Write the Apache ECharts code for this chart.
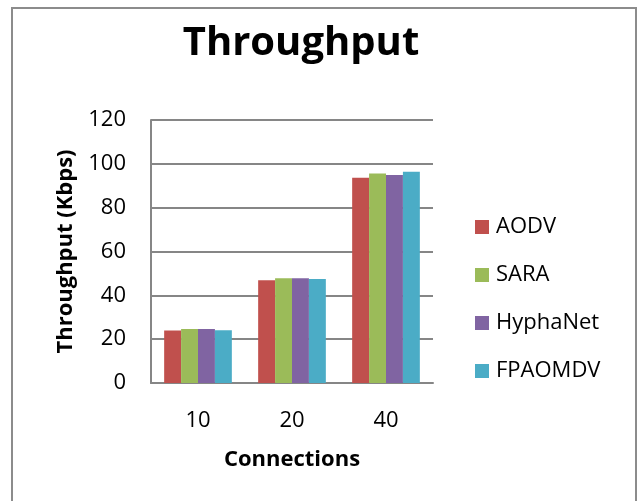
<!DOCTYPE html>
<html>
<head>
<meta charset="utf-8">
<script src="https://cdn.jsdelivr.net/npm/echarts@6/dist/echarts.min.js"></script>
<style>
  html, body { margin: 0; padding: 0; background: #ffffff; }
  #chart { width: 638px; height: 501px; }
</style>
</head>
<body>
<div id="chart"></div>
<script>
// Throughput per protocol for each connection count
const categories = ['10', '20', '40'];
const seriesNames = ['AODV', 'SARA', 'HyphaNet', 'FPAOMDV'];
const aodv = [23.9, 46.9, 93.7];
const sara = [24.6, 47.8, 95.6];
const hyphanet = [24.6, 47.8, 94.9];
const fpaomdv = [24.1, 47.5, 96.4];
const yTicks = [0, 20, 40, 60, 80, 100, 120];

const seriesValues = [aodv, sara, hyphanet, fpaomdv];
const colors = ['#C0504D', '#9BBB59', '#8064A2', '#4BACC6'];
const FONT = '"Open Sans", "Noto Sans", sans-serif';

const chart = echarts.init(document.getElementById('chart'), null, { renderer: 'canvas' });

chart.setOption({
  animation: false,
  backgroundColor: '#ffffff',
  color: colors,
  title: {
    text: 'Throughput',
    left: 301,
    textAlign: 'center',
    top: 24,
    padding: 0,
    textStyle: { fontFamily: FONT, fontWeight: 'bold', fontSize: 40, color: '#000000' }
  },
  legend: {
    orient: 'vertical',
    left: 475,
    top: 216,
    padding: 0,
    itemWidth: 14,
    itemHeight: 14,
    itemGap: 26,
    icon: 'rect',
    data: seriesNames,
    textStyle: { fontFamily: FONT, fontSize: 22, color: '#000000', padding: [0, 0, 0, 2] }
  },
  grid: { left: 151, right: 205, top: 120, bottom: 118, containLabel: false },
  xAxis: {
    type: 'category',
    data: categories,
    name: 'Connections',
    nameLocation: 'middle',
    nameGap: 66,
    nameTextStyle: { fontFamily: FONT, fontWeight: 'bold', fontSize: 22, color: '#000000' },
    axisLine: { show: true, lineStyle: { color: '#868686', width: 2 } },
    axisTick: { show: false },
    axisLabel: { fontFamily: FONT, fontSize: 22, color: '#000000', margin: 27 }
  },
  yAxis: {
    type: 'value',
    min: yTicks[0],
    max: yTicks[yTicks.length - 1],
    interval: yTicks[1] - yTicks[0],
    name: 'Throughput (Kbps)',
    nameLocation: 'middle',
    nameGap: 74,
    nameTextStyle: { fontFamily: FONT, fontWeight: 'bold', fontSize: 22, color: '#000000' },
    axisLine: { show: true, lineStyle: { color: '#868686', width: 2 } },
    axisTick: { show: false },
    axisLabel: { fontFamily: FONT, fontSize: 22, color: '#000000', margin: 25 },
    splitLine: { show: true, lineStyle: { color: '#868686', width: 2 } }
  },
  graphic: [{
    type: 'rect',
    shape: { x: 12, y: 8, width: 624, height: 520 },
    style: { fill: 'none', stroke: '#8c8c8c', lineWidth: 2 },
    silent: true,
    z: 100
  }],
  series: seriesNames.map((name, i) => ({
    name: name,
    type: 'bar',
    data: seriesValues[i],
    barGap: '0%',
    barCategoryGap: '28%',
    itemStyle: { color: colors[i] }
  }))
});
</script>
</body>
</html>
